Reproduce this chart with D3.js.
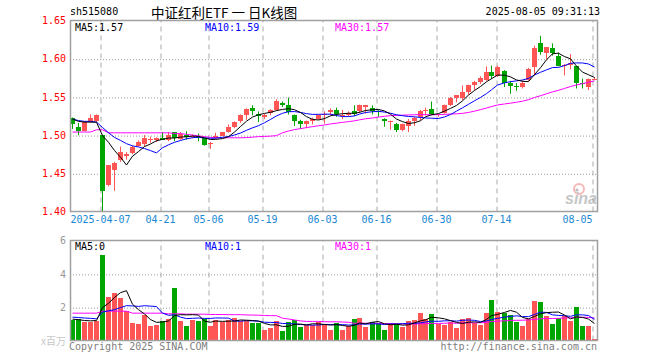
<!DOCTYPE html>
<html>
<head>
<meta charset="utf-8">
<script src="https://cdn.jsdelivr.net/npm/d3@7"></script>
<style>
body { margin: 0; background: #fff; }
svg text { font-family: "DejaVu Sans Mono", monospace; font-size: 10px; }
</style>
</head>
<body>
<script>
// trading days shown (2025)
var dates = ["03-28","03-31","04-01","04-02","04-03","04-07","04-08","04-09","04-10","04-11",
  "04-14","04-15","04-16","04-17","04-18","04-21","04-22","04-23","04-24","04-25",
  "04-28","04-29","04-30","05-06","05-07","05-08","05-09","05-12","05-13","05-14",
  "05-15","05-16","05-19","05-20","05-21","05-22","05-23","05-26","05-27","05-28",
  "05-29","05-30","06-03","06-04","06-05","06-06","06-09","06-10","06-11","06-12",
  "06-13","06-16","06-17","06-18","06-19","06-20","06-23","06-24","06-25","06-26",
  "06-27","06-30","07-01","07-02","07-03","07-04","07-07","07-08","07-09","07-10",
  "07-11","07-14","07-15","07-16","07-17","07-18","07-21","07-22","07-23","07-24",
  "07-25","07-28","07-29","07-30","07-31","08-01","08-04","08-05"];

var open = [1.522,1.511,1.505,1.517,1.518,1.500,1.435,1.454,1.467,1.472,
  1.476,1.486,1.489,1.494,1.493,1.496,1.494,1.504,1.495,1.500,
  1.498,1.498,1.496,1.488,1.496,1.499,1.504,1.511,1.518,1.526,
  1.535,1.528,1.524,1.529,1.533,1.542,1.540,1.526,1.519,1.515,
  1.519,1.521,1.526,1.530,1.533,1.525,1.526,1.531,1.531,1.537,
  1.536,1.532,1.521,1.518,1.515,1.507,1.512,1.518,1.524,1.531,
  1.534,1.526,1.529,1.539,1.549,1.548,1.557,1.565,1.569,1.572,
  1.583,1.577,1.584,1.568,1.564,1.563,1.572,1.589,1.621,1.607,
  1.614,1.604,1.590,1.592,1.590,1.568,1.563,1.574];
var high = [1.523,1.516,1.518,1.527,1.527,1.500,1.461,1.465,1.485,1.478,
  1.486,1.493,1.500,1.498,1.497,1.504,1.504,1.504,1.504,1.505,
  1.501,1.502,1.496,1.491,1.503,1.504,1.514,1.518,1.527,1.535,
  1.539,1.531,1.528,1.534,1.547,1.544,1.549,1.527,1.520,1.519,
  1.523,1.527,1.531,1.535,1.536,1.533,1.531,1.539,1.540,1.539,
  1.539,1.533,1.522,1.519,1.516,1.515,1.521,1.524,1.533,1.536,
  1.544,1.528,1.540,1.550,1.552,1.565,1.566,1.571,1.577,1.590,
  1.591,1.591,1.585,1.571,1.568,1.571,1.588,1.617,1.630,1.615,
  1.620,1.608,1.593,1.606,1.590,1.574,1.574,1.576];
var low = [1.508,1.500,1.505,1.516,1.517,1.400,1.433,1.427,1.465,1.468,
  1.475,1.485,1.485,1.490,1.491,1.494,1.492,1.492,1.494,1.494,
  1.496,1.492,1.486,1.482,1.495,1.499,1.503,1.509,1.516,1.520,
  1.526,1.517,1.521,1.526,1.532,1.537,1.527,1.512,1.508,1.509,
  1.514,1.520,1.515,1.526,1.524,1.521,1.524,1.525,1.529,1.528,
  1.527,1.524,1.511,1.507,1.504,1.505,1.504,1.512,1.519,1.526,
  1.526,1.524,1.528,1.538,1.543,1.546,1.553,1.559,1.567,1.571,
  1.574,1.576,1.563,1.554,1.558,1.561,1.571,1.578,1.605,1.599,
  1.604,1.590,1.578,1.586,1.561,1.561,1.559,1.572];
var close = [1.514,1.505,1.517,1.522,1.526,1.427,1.461,1.463,1.478,1.475,
  1.485,1.491,1.496,1.495,1.496,1.494,1.500,1.496,1.501,1.498,
  1.499,1.497,1.487,1.490,1.499,1.504,1.510,1.517,1.526,1.534,
  1.531,1.525,1.526,1.533,1.545,1.539,1.530,1.519,1.515,1.518,
  1.521,1.526,1.528,1.533,1.527,1.526,1.529,1.528,1.539,1.539,
  1.531,1.531,1.518,1.518,1.507,1.514,1.519,1.523,1.531,1.533,
  1.527,1.527,1.539,1.549,1.552,1.557,1.565,1.569,1.575,1.583,
  1.577,1.589,1.568,1.564,1.563,1.568,1.587,1.614,1.609,1.615,
  1.607,1.591,1.592,1.594,1.568,1.567,1.574,1.574];
// volume, millions
var volume = [1.24,1.30,1.12,1.12,1.20,5.13,2.61,2.85,2.57,1.78,
  1.06,1.00,1.54,0.90,0.94,1.18,1.30,3.15,1.18,0.88,
  1.24,1.18,1.30,0.88,1.24,1.14,1.24,1.34,1.20,1.16,
  1.06,1.06,0.64,0.76,1.18,0.58,1.12,1.22,0.82,0.92,
  0.94,1.10,1.02,0.66,1.08,0.64,0.88,1.30,1.36,0.82,
  1.12,1.08,0.64,1.06,1.00,0.82,1.18,1.24,1.66,1.30,
  1.60,1.00,0.94,1.12,0.76,1.30,1.36,1.06,0.94,1.66,
  2.44,1.72,1.66,1.54,1.12,0.88,1.30,2.38,2.32,1.48,
  1.00,1.36,1.48,1.18,2.02,0.88,0.88,0.10];

// moving-average values before enough days are on screen
var ma5Head = [1.521,1.518,1.517,1.517];
var ma10Head = [1.521,1.519,1.518,1.518,1.517,1.510,1.503,1.497,1.493];
var ma30Head = [1.504,1.504,1.504,1.504,1.507,1.507,1.503,1.503,1.503,1.503,
  1.503,1.503,1.503,1.503,1.503,1.503,1.503,1.502,1.502,1.501,
  1.500,1.499,1.498,1.497,1.4965,1.4965,1.4965,1.4965,1.4965];
var volMa5Head = [1.28,1.25,1.20,1.18];
var volMa10Head = [1.40,1.38,1.35,1.33,1.30,1.70,1.78,1.85,1.97];
var volMa30Head = [1.64,1.64,1.64,1.64,1.64,1.76,1.76,1.76,1.76,1.76,
  1.64,1.64,1.64,1.64,1.64,1.64,1.60,1.60,1.60,1.58,
  1.58,1.58,1.58,1.56,1.56,1.56,1.55,1.55,1.55];

var tickDates = ["04-07","04-21","05-06","05-19","06-03","06-16","06-30","07-14","08-05"];
var tickLabels = ["2025-04-07","04-21","05-06","05-19","06-03","06-16","06-30","07-14","08-05"];
var priceTicks = [1.40,1.45,1.50,1.55,1.60,1.65];
var volTicks = [2,4,6];
var maNames = ["MA5","MA10","MA30"];
var maPriceText = ["1.57","1.59","1.57"];
var maVolText = ["0","1","1"];

var width = 660, height = 360,
    left = 70, right = 598,
    top1 = 20.5, bottom1 = 211.5,
    top2 = 240.5, bottom2 = 340.5;

var red = "#ff5555", green = "#00a600";
var maColors = ["#000", "#0000ff", "#ff00ff"];

var svg = d3.select("body").append("svg")
    .attr("width", width)
    .attr("height", height);

// index -> left edge of a candle slot (6px per day)
var xi = d3.scaleLinear().domain([0, dates.length]).range([left, right]);
var y = d3.scaleLinear().domain([1.40, 1.65]).range([bottom1, top1]);
var yv = d3.scaleLinear().domain([0, 6]).range([bottom2, top2]);

function movingAvg(arr, n, head) {
    return arr.map(function(v, i) {
        return i < n - 1 ? head[i] : d3.mean(arr.slice(i - n + 1, i + 1));
    });
}

var tickIdx = tickDates.map(function(d) { return dates.indexOf(d); });

// header
svg.append("text").attr("x", 70).attr("y", 15).text("sh515080");
svg.append("text").attr("x", 151).attr("y", 17.5)
   .style("font-family", "'Noto Sans CJK SC', sans-serif").style("font-size", "13.5px")
   .style("white-space", "pre")
   .text("中证红利ETF 一 日K线图");
svg.append("text").attr("x", 600).attr("y", 15).attr("text-anchor", "end")
   .text("2025-08-05 09:31:13");

function grid(top, bottom, hScale, hTicks) {
    // horizontal dotted
    var ga = d3.axisLeft(hScale).tickValues(hTicks).tickSize(-(right - left)).tickFormat("");
    var g = svg.append("g").attr("transform", "translate(" + left + ",0)").call(ga);
    g.select(".domain").remove();
    g.selectAll("line").attr("stroke", "#999").attr("stroke-dasharray", "1,2")
     .attr("transform", "translate(0,0.5)");
    // vertical dashed
    var va = d3.axisBottom(xi).tickValues(tickIdx).tickSize(-(bottom - top)).tickFormat("");
    var g2 = svg.append("g").attr("transform", "translate(0," + bottom + ")").call(va);
    g2.select(".domain").remove();
    g2.selectAll("line").attr("stroke", "#aaa").attr("stroke-dasharray", "5,4")
      .attr("transform", "translate(0.5,0)");
}

grid(top1, bottom1, y, [1.45, 1.50, 1.55, 1.60]);
grid(top2, bottom2, yv, [2, 4]);

// price axis labels
var pa = svg.append("g").attr("transform", "translate(" + left + ",0)")
    .call(d3.axisLeft(y).tickValues(priceTicks).tickFormat(d3.format(".2f")).tickSize(0).tickPadding(4));
pa.select(".domain").remove();
pa.selectAll("text").attr("fill", "#f00")
  .style("font-family", "'DejaVu Sans Mono', monospace").style("font-size", "10px");

// volume axis labels
var va = svg.append("g").attr("transform", "translate(" + left + ",0)")
    .call(d3.axisLeft(yv).tickValues(volTicks).tickFormat(d3.format("d")).tickSize(0).tickPadding(4));
va.select(".domain").remove();
va.selectAll("text").attr("fill", "#999")
  .style("font-family", "'DejaVu Sans Mono', monospace").style("font-size", "10px");

// date axis labels
var da = svg.append("g").attr("transform", "translate(0," + bottom1 + ")")
    .call(d3.axisBottom(xi).tickValues(tickIdx).tickSize(0).tickPadding(4)
        .tickFormat(function(d, i) { return tickLabels[i]; }));
da.select(".domain").remove();
da.selectAll("text").attr("fill", "#1a88d4").attr("dy", "0.71em")
  .style("font-family", "'DejaVu Sans Mono', monospace").style("font-size", "10px");
da.selectAll("text").filter(function(d, i) { return i === tickIdx.length - 1; })
  .attr("text-anchor", "end");

// sina watermark
var wm = svg.append("g").attr("opacity", 0.55);
wm.append("circle").attr("cx", 579).attr("cy", 189).attr("r", 5)
  .attr("fill", "none").attr("stroke", "#f08080").attr("stroke-width", 2);
wm.append("circle").attr("cx", 577).attr("cy", 190).attr("r", 1.6).attr("fill", "#888");
wm.append("text").attr("x", 565).attr("y", 204)
  .style("font-family", "'Liberation Sans', sans-serif").style("font-size", "16px")
  .style("font-weight", "bold").style("font-style", "italic")
  .attr("fill", "#999").text("sina");

// candles
var candles = svg.append("g");
dates.forEach(function(d, i) {
    var up = close[i] >= open[i];
    var col = up ? red : green;
    var cx = Math.floor(xi(i)) + 2.5;
    candles.append("line")
        .attr("x1", cx).attr("x2", cx)
        .attr("y1", y(high[i])).attr("y2", y(low[i]))
        .attr("stroke", col).attr("stroke-width", 1);
    var y0 = y(Math.max(open[i], close[i])), y1 = y(Math.min(open[i], close[i]));
    candles.append("rect")
        .attr("x", Math.floor(xi(i)))
        .attr("y", y0)
        .attr("width", 5)
        .attr("height", Math.max(1, y1 - y0))
        .attr("fill", col)
        .attr("shape-rendering", "crispEdges");
});

// volume bars
svg.append("g").selectAll("rect")
    .data(volume)
    .enter()
    .append("rect")
        .attr("x", function(d, i) { return Math.floor(xi(i)); })
        .attr("y", function(d) { return yv(d); })
        .attr("width", 5)
        .attr("height", function(d) { return bottom2 - yv(d); })
        .attr("fill", function(d, i) { return close[i] >= open[i] ? red : green; })
        .attr("shape-rendering", "crispEdges");

// MA lines
var priceMA = [movingAvg(close, 5, ma5Head), movingAvg(close, 10, ma10Head), movingAvg(close, 30, ma30Head)];
var volMA = [movingAvg(volume, 5, volMa5Head), movingAvg(volume, 10, volMa10Head), movingAvg(volume, 30, volMa30Head)];

var lineP = d3.line().x(function(d, i) { return Math.floor(xi(i)) + 2.5; }).y(function(d) { return y(d); });
var lineV = d3.line().x(function(d, i) { return Math.floor(xi(i)) + 2.5; }).y(function(d) { return yv(d); });

[2, 1, 0].forEach(function(k) {
    svg.append("path").attr("d", lineP(priceMA[k]))
       .attr("fill", "none").attr("stroke", maColors[k]).attr("stroke-width", 1);
    svg.append("path").attr("d", lineV(volMA[k]))
       .attr("fill", "none").attr("stroke", maColors[k]).attr("stroke-width", 1);
});

// frames
[[top1, bottom1], [top2, bottom2]].forEach(function(b) {
    svg.append("rect").attr("x", left + 0.5).attr("y", b[0])
       .attr("width", right - left - 1).attr("height", b[1] - b[0])
       .attr("fill", "none").attr("stroke", "#a0a0a0").attr("stroke-width", 1.5);
});

// MA legends
var maX = [75, 205, 335];
maNames.forEach(function(n, k) {
    svg.append("text").attr("x", maX[k]).attr("y", 31).attr("fill", maColors[k])
       .text(n + ":" + maPriceText[k]);
    svg.append("text").attr("x", maX[k]).attr("y", 250).attr("fill", maColors[k])
       .text(n + ":" + maVolText[k]);
});

// footer
svg.append("text").attr("x", 66).attr("y", 345).attr("text-anchor", "end")
   .attr("fill", "#c8c8c8").style("font-family", "'Noto Sans CJK SC', sans-serif")
   .style("font-size", "10px").text("x百万");
svg.append("text").attr("x", 69).attr("y", 350).attr("fill", "#808080")
   .text("Copyright 2025 SINA.COM");
svg.append("text").attr("x", 597).attr("y", 350).attr("text-anchor", "end")
   .attr("fill", "#808080").text("http://finance.sina.com.cn");
</script>
</body>
</html>
